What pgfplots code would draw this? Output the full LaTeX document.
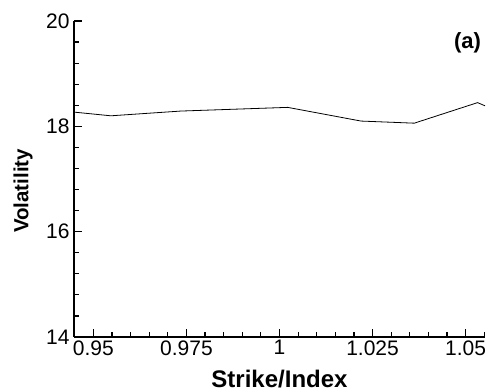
\documentclass[border=0pt]{standalone}
\usepackage{fontspec}
\setmainfont{Liberation Sans}
\usepackage{pgfplots}
\pgfplotsset{compat=1.18}
\begin{document}
\begin{tikzpicture}
\begin{axis}[
  at={(74bp,54bp)}, anchor=south west,
  scale only axis, width=411bp, height=316bp,
  xmin=0.9448, xmax=1.0552, ymin=14, ymax=20,
  axis x line*=bottom, axis y line*=left,
  axis line style={-, line width=1.4bp},
  tick align=inside,
  major tick length=7.5bp, minor tick length=4.5bp,
  every tick/.style={black, line width=1.2bp},
  xtick={0.95,0.975,1,1.025,1.05},
  xticklabels={0.95,0.975,1,1.025,1.05},
  minor xtick={0.955,0.96,0.965,0.97,0.98,0.985,0.99,0.995,1.005,1.01,1.015,1.02,1.03,1.035,1.04,1.045,1.055},
  ytick={14,16,18,20},
  minor ytick={14.4,14.8,15.2,15.6,16.4,16.8,17.2,17.6,18.4,18.8,19.2,19.6},
  /pgf/number format/assume math mode=true,
  tick label style={font=\fontsize{21bp}{24bp}\selectfont},
  xticklabel style={anchor=north, yshift=0bp},
  yticklabel style={anchor=east, xshift=-1bp},
  xlabel={\textbf{Strike/Index}},
  ylabel={\textbf{Volatility}},
  every axis x label/.style={at={([yshift=-42bp]axis description cs:0.5,0)}, anchor=center, inner sep=0.5bp, font=\fontsize{24bp}{26bp}\selectfont},
  every axis y label/.style={at={([xshift=-51bp,yshift=-12bp]axis description cs:0,0.5)}, anchor=center, rotate=90, font=\fontsize{20.5bp}{23bp}\selectfont},
  clip=false,
]
\addplot[black, line width=0.8bp] coordinates {
  (0.9448,18.27) (0.9547,18.20) (0.9735,18.29) (1.0022,18.36)
  (1.0219,18.10) (1.0362,18.06) (1.0532,18.45) (1.0552,18.39)
};
\node[font=\bfseries\fontsize{22bp}{24bp}\selectfont, anchor=center] at (axis cs:1.0505,19.59) {(a)};
\end{axis}
\pgfresetboundingbox
\path[use as bounding box] (0,0) rectangle (489bp,391bp);
\end{tikzpicture}
\end{document}
